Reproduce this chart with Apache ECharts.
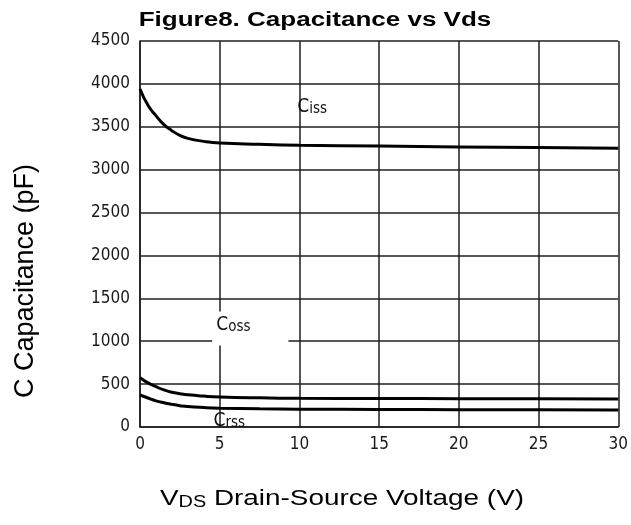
<!DOCTYPE html>
<html>
<head>
<meta charset="utf-8">
<script src="https://cdn.jsdelivr.net/npm/echarts@6/dist/echarts.min.js"></script>
<style>
  html, body { margin: 0; padding: 0; background: #fff; }
  #chart { width: 631px; height: 525px; }
</style>
</head>
<body>
<div id="chart"></div>
<script>
// 数据 (读自图片)
const vds = [0, 0.5, 1, 1.5, 2, 2.5, 3, 4, 5, 7.5, 10, 15, 20, 25, 30];
const ciss = [3940, 3750, 3630, 3525, 3455, 3400, 3365, 3330, 3310, 3295, 3285, 3275, 3265, 3258, 3250];
const coss = [575, 515, 470, 432, 405, 388, 375, 360, 350, 340, 335, 332, 330, 328, 326];
const crss = [373, 338, 305, 282, 264, 249, 238, 227, 220, 212, 208, 205, 202, 200, 198];
const xTicks = [0, 5, 10, 15, 20, 25, 30];
const yTicks = [0, 500, 1000, 1500, 2000, 2500, 3000, 3500, 4000, 4500];

const pairs = arr => vds.map((v, i) => [v, arr[i]]);
const narrow = "'Liberation Sans Narrow', 'Arial Narrow', 'DejaVu Sans Condensed', sans-serif";
const arial = "'Liberation Sans', Arial, sans-serif";
const gridLine = { color: '#1e1e1e', width: 1.5 };

// 曲线标注: C 大号 + 小号后缀
function capLabel(sub, extra) {
    return Object.assign({
        show: true,
        formatter: '{c|C}{s|' + sub + '}',
        color: '#111',
        rich: {
            c: { fontFamily: narrow, fontSize: 19, color: '#111' },
            s: { fontFamily: narrow, fontSize: 15, color: '#111', verticalAlign: 'bottom' }
        }
    }, extra || {});
}

let myChart = echarts.init(document.getElementById('chart'));
let option = {
    backgroundColor: '#fff',
    animation: false,
    grid: { left: 140, right: 12, top: 41, bottom: 98 },
    xAxis: {
        type: 'value',
        min: 0, max: 30, interval: 5,
        axisLine: { lineStyle: gridLine },
        axisTick: { show: false },
        splitLine: { show: true, lineStyle: gridLine },
        axisLabel: {
            fontFamily: narrow, fontSize: 17, color: '#1a1a1a', margin: 9,
            formatter: v => xTicks.includes(v) ? String(v) : ''
        }
    },
    yAxis: {
        type: 'value',
        min: 0, max: 4500, interval: 500,
        axisLine: { show: true, lineStyle: gridLine },
        axisTick: { show: false },
        splitLine: { show: true, lineStyle: gridLine },
        axisLabel: {
            fontFamily: narrow, fontSize: 17, color: '#1a1a1a', margin: 10,
            formatter: v => yTicks.includes(v) ? String(v) : ''
        }
    },
    graphic: [
        {
            // 标题 (原图横向拉伸)
            type: 'text', x: 315, y: 20, scaleX: 1.3,
            style: {
                text: 'Figure8. Capacitance vs Vds',
                font: 'bold 20px ' + arial,
                fill: '#000', align: 'center', verticalAlign: 'middle'
            }
        },
        {
            // y轴名称
            type: 'text', x: 26, y: 281, rotation: Math.PI / 2,
            style: {
                text: 'C Capacitance (pF)',
                font: '27px ' + arial,
                fill: '#000', align: 'center', verticalAlign: 'middle'
            }
        },
        {
            // x轴名称
            type: 'text', x: 342, y: 499, scaleX: 1.24,
            style: {
                text: '{v|V}{d|DS}{t| Drain-Source Voltage (V)}',
                align: 'center', verticalAlign: 'middle',
                rich: {
                    v: { fontFamily: arial, fontSize: 22.5, fill: '#000' },
                    d: { fontFamily: arial, fontSize: 16, fill: '#000', verticalAlign: 'bottom', padding: [8, 0, 0, 0] },
                    t: { fontFamily: arial, fontSize: 22.5, fill: '#000' }
                }
            }
        }
    ],
    series: [
        {
            name: 'Ciss', type: 'line', data: pairs(ciss),
            smooth: 0.5, showSymbol: false,
            lineStyle: { color: '#000', width: 3 },
            markPoint: {
                symbol: 'circle', symbolSize: 0,
                data: [{ coord: [10.8, 3730] }],
                label: capLabel('iss', { position: 'inside' })
            }
        },
        {
            name: 'Coss', type: 'line', data: pairs(coss),
            smooth: 0.5, showSymbol: false,
            lineStyle: { color: '#000', width: 3 },
            markPoint: {
                symbol: 'circle', symbolSize: 1,
                data: [{ coord: [4.56, 1340] }],
                label: capLabel('oss', {
                    position: [0, 0],
                    align: 'left', verticalAlign: 'top',
                    backgroundColor: '#fff',
                    padding: [4, 38, 11, 4]
                })
            }
        },
        {
            name: 'Crss', type: 'line', data: pairs(crss),
            smooth: 0.5, showSymbol: false,
            lineStyle: { color: '#000', width: 3 },
            markPoint: {
                symbol: 'circle', symbolSize: 0,
                data: [{ coord: [5.6, 65] }],
                label: capLabel('rss', { position: 'inside' })
            }
        }
    ]
};
myChart.setOption(option);
</script>
</body>
</html>
